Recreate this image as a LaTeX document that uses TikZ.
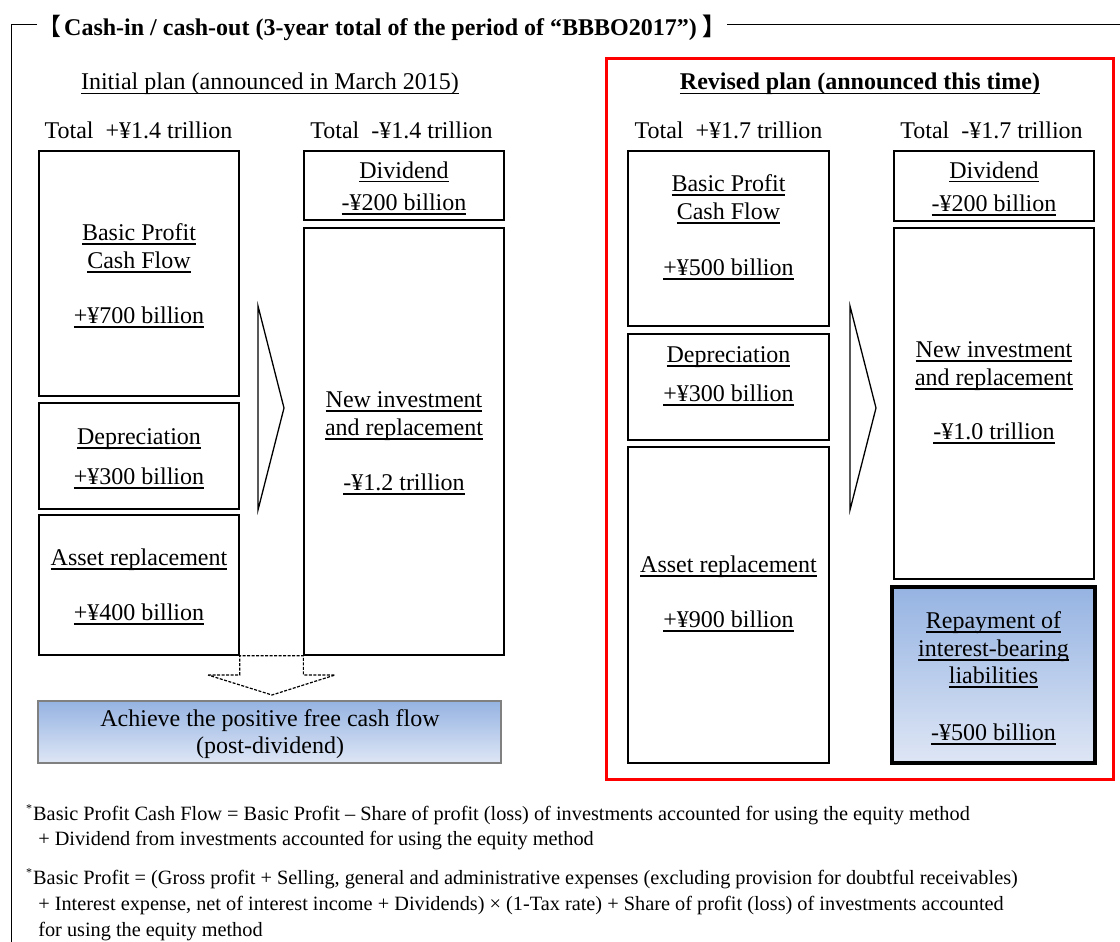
\documentclass[tikz,border=0pt]{standalone}
\usepackage{fontspec}
\setmainfont{Liberation Serif}
\newfontfamily\cjk{Noto Sans CJK JP}
\newcommand\myul[1]{\leavevmode\setbox0\hbox{#1}\rlap{\lower4pt\hbox{\vrule width\wd0 height1.2pt depth0pt}}\box0}
\definecolor{gtop}{RGB}{149,179,226}
\definecolor{gbot}{RGB}{222,230,245}
\definecolor{fcfborder}{RGB}{128,128,128}
\tikzset{
  box/.style={draw, line width=1.3pt, inner sep=0pt},
  t/.style={anchor=base, inner sep=0pt, font=\fontsize{24}{28}\selectfont},
  fn/.style={anchor=base west, inner sep=0pt, font=\fontsize{20.3}{24}\selectfont},
  gradbox/.style={top color=gtop, bottom color=gbot},
}
\begin{document}
\begin{tikzpicture}[x=1pt,y=-1pt]
\useasboundingbox (0,0) rectangle (1120,942);
% title and frame
\node[anchor=base west, inner sep=0pt, font=\fontsize{24}{28}\selectfont] (title) at (37,36)
  {{\cjk 【}\kern3pt\bfseries Cash-in / cash-out (3-year total of the period of “BBBO2017”) {\cjk 】}};
\coordinate (tl) at (11,25);
\coordinate (tr) at (1120,25);
\coordinate (bl) at (11,942);
\draw[line width=1pt] (title.west |- tl) -- (tl) -- (bl);
\draw[line width=1pt] (title.east |- tr) -- (tr);

% ---- Initial plan ----
\node[t] (ihead) at (270,90) {\myul{Initial plan (announced in March 2015)}};
\node[t] (itin) at (138.5,139) {Total~ +¥1.4 trillion};
\node[t] (itout) at (401.5,139) {Total~ -¥1.4 trillion};

\node[box, minimum width=200, minimum height=245] (L1) at (139,273.5) {};
\node[box, minimum width=200, minimum height=106] (L2) at (139,456) {};
\node[box, minimum width=200, minimum height=140] (L3) at (139,585) {};
\node[box, minimum width=200, minimum height=69] (L4) at (404,185.5) {};
\node[box, minimum width=200, minimum height=427] (L5) at (404,441.5) {};

\node[t] (l1a) at (139,240.5) {\myul{Basic Profit}};
\node[t] (l1b) at (139,268.5) {\myul{Cash Flow}};
\node[t] (l1c) at (139,323.5) {\myul{+¥700 billion}};
\node[t] (l2a) at (139,444.5) {\myul{Depreciation}};
\node[t] (l2b) at (139,484.5) {\myul{+¥300 billion}};
\node[t] (l3a) at (139,565.5) {\myul{Asset replacement}};
\node[t] (l3b) at (139,620.5) {\myul{+¥400 billion}};
\node[t] (l4a) at (404,178.5) {\myul{Dividend}};
\node[t] (l4b) at (404,210.5) {\myul{-¥200 billion}};
\node[t] (l5a) at (404,407.5) {\myul{New investment}};
\node[t] (l5b) at (404,435.5) {\myul{and replacement}};
\node[t] (l5c) at (404,490.5) {\myul{-¥1.2 trillion}};

% chevron
\draw[line width=1.3pt, line join=miter] (258,306) -- (284,408) -- (258,510) -- cycle;

% dashed block arrow
\coordinate (da1) at (L3.south east);
\coordinate (da2) at (L5.south west);
\draw[line width=1.2pt, dash pattern=on 3pt off 1.5pt]
  (208,675) -- (da1 |- 0,675) -- (da1) -- (da2) -- (da2 |- 0,675) -- (335,675) -- (272,695) -- cycle;

\node[draw=fcfborder, line width=1.3pt, gradbox, minimum width=463, minimum height=62, inner sep=0pt] (fcf) at (269.5,732) {};
\node[t] (fcfa) at (270,726.5) {Achieve the positive free cash flow};
\node[t] (fcfb) at (270,753.5) {(post-dividend)};

% ---- Revised plan ----
\node[draw=red, line width=3pt, minimum width=507, minimum height=720, inner sep=0pt] (rev) at (859.5,419) {};
\node[t] (rhead) at (860,90) {\bfseries\myul{Revised plan (announced this time)}};
\node[t] (rtin) at (728.5,139) {Total~ +¥1.7 trillion};
\node[t] (rtout) at (991.5,139) {Total~ -¥1.7 trillion};

\node[box, minimum width=201, minimum height=175] (R1) at (728.5,238.5) {};
\node[box, minimum width=201, minimum height=106] (R2) at (728.5,387) {};
\node[box, minimum width=201, minimum height=316] (R3) at (728.5,605) {};
\node[box, minimum width=200, minimum height=70] (R4) at (994,186) {};
\node[box, minimum width=200, minimum height=351] (R5) at (994,403.5) {};
\node[draw, line width=3.5pt, gradbox, minimum width=203, minimum height=176, inner sep=0pt] (R6) at (993.5,675) {};

\node[t] (r1a) at (728.5,191.5) {\myul{Basic Profit}};
\node[t] (r1b) at (728.5,219.5) {\myul{Cash Flow}};
\node[t] (r1c) at (728.5,275.5) {\myul{+¥500 billion}};
\node[t] (r2a) at (728.5,362.5) {\myul{Depreciation}};
\node[t] (r2b) at (728.5,401.5) {\myul{+¥300 billion}};
\node[t] (r3a) at (728.5,572.5) {\myul{Asset replacement}};
\node[t] (r3b) at (728.5,627.5) {\myul{+¥900 billion}};
\node[t] (r4a) at (994,178.5) {\myul{Dividend}};
\node[t] (r4b) at (994,211.5) {\myul{-¥200 billion}};
\node[t] (r5a) at (994,357.5) {\myul{New investment}};
\node[t] (r5b) at (994,385.5) {\myul{and replacement}};
\node[t] (r5c) at (994,439.5) {\myul{-¥1.0 trillion}};
\node[t] (r6a) at (993.5,628.5) {\myul{Repayment of}};
\node[t] (r6b) at (993.5,656.5) {\myul{interest-bearing}};
\node[t] (r6c) at (993.5,683.5) {\myul{liabilities}};
\node[t] (r6d) at (993.5,740.5) {\myul{-¥500 billion}};

\draw[line width=1.3pt, line join=miter] (850,306) -- (876,408) -- (850,510) -- cycle;

% ---- footnotes ----
\node[fn] (f1s) at (26,812) {\fontsize{12}{12}\selectfont *};
\node[fn] (f1) at (33,820) {Basic Profit Cash Flow = Basic Profit – Share of profit (loss) of investments accounted for using the equity method};
\node[fn] (f2) at (33,845) {\ + Dividend from investments accounted for using the equity method};
\node[fn] (f3s) at (26,876) {\fontsize{12}{12}\selectfont *};
\node[fn] (f3) at (33,884) {Basic Profit = (Gross profit + Selling, general and administrative expenses (excluding provision for doubtful receivables)};
\node[fn] (f4) at (33,910) {\ + Interest expense, net of interest income + Dividends) × (1-Tax rate) + Share of profit (loss) of investments accounted};
\node[fn] (f5) at (33,936) {\ for using the equity method};
\end{tikzpicture}
\end{document}
